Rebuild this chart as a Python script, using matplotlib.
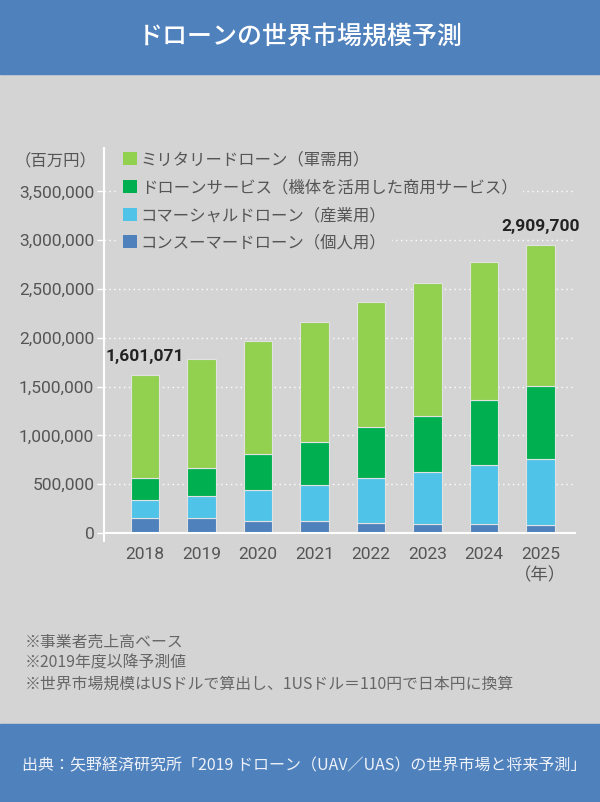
import numpy as np
import matplotlib.pyplot as plt
from matplotlib.patches import Patch, Rectangle
from matplotlib.ticker import FuncFormatter

# データ（百万円）
years = ["2018", "2019", "2020", "2021", "2022", "2023", "2024", "2025"]
consumer = [151000, 151000, 120000, 120000, 106000, 92000, 92000, 79000]
commercial = [187000, 231000, 317000, 372000, 458000, 530000, 602000, 682000]
services = [229000, 281000, 369000, 440000, 525000, 580000, 672000, 748000]
military = [1052000, 1123000, 1164000, 1233000, 1278000, 1359000, 1408000, 1445000]
total_labels = {0: "1,601,071", 7: "2,909,700"}

series_names = ["ミリタリードローン（軍需用）", "ドローンサービス（機体を活用した商用サービス）",
                "コマーシャルドローン（産業用）", "コンスーマードローン（個人用）"]
colors = ["#92d050", "#00b050", "#50c3e9", "#4f81bd"]

bg = "#d4d4d4"
blue = "#4f81bd"
jp = ["Noto Sans CJK JP", "DejaVu Sans"]
num = ["Liberation Sans Narrow", "Roboto", "Noto Sans CJK JP"]

fig = plt.figure(figsize=(6, 8.02), dpi=100, facecolor=bg)

# ヘッダーとフッター
fig.patches.append(Rectangle((0, 1 - 74 / 802), 1, 74 / 802, transform=fig.transFigure,
                             color=blue, zorder=0))
fig.patches.append(Rectangle((0, 0), 1, 78 / 802, transform=fig.transFigure,
                             color=blue, zorder=0))
fig.text(0.5, 1 - 37 / 802, "ドローンの世界市場規模予測", color="white", fontsize=18,
         ha="center", va="center", family=jp, fontweight="medium")

ax = fig.add_axes([104 / 600, 1 - 541 / 802, 472 / 600, 393 / 802])
ax.set_facecolor(bg)

x = np.arange(len(years))
w = 0.505
stack = [consumer, commercial, services, military]
stack_colors = colors[::-1]
bottom = np.zeros(len(years))
for vals, c in zip(stack, stack_colors):
    ax.bar(x, vals, w, bottom=bottom, color=c, edgecolor="#e2e2e2", linewidth=0.8, zorder=3)
    bottom += np.array(vals)

for i, txt in total_labels.items():
    ax.annotate(txt, (x[i], bottom[i]), xytext=(0, 13), textcoords="offset points",
                ha="center", va="center", fontsize=12.5, fontweight="bold",
                color="#222222", family=num, zorder=5)

ax.set_xlim(-0.722, 7.632)
ax.set_ylim(-82000, 3945000)
ax.set_yticks(np.arange(0, 3500001, 500000))
ax.yaxis.set_major_formatter(FuncFormatter(lambda v, p: f"{int(v):,}"))
ax.set_xticks(x)
ax.set_xticklabels(years[:-1] + [years[-1] + "\n（年）"])

for lab in ax.get_xticklabels() + ax.get_yticklabels():
    lab.set_family(num)
    lab.set_color("#555555")
    lab.set_fontsize(12.5)
    lab.set_linespacing(1.4)

ax.tick_params(axis="x", length=0, pad=4)
ax.tick_params(axis="y", length=5, width=1, color="white", pad=2)

for s in ["top", "right", "bottom"]:
    ax.spines[s].set_visible(False)
ax.spines["left"].set_color("white")
ax.spines["left"].set_linewidth(1.5)

for v in ax.get_yticks()[1:]:
    ax.axhline(v, color="white", linestyle=(0, (1, 2.5)), linewidth=1, zorder=1)
ax.axhline(0, color="white", linewidth=1.5, zorder=4)

# 凡例（項目ごとに背景）
rows = [160, 188, 216, 243]
for name, c, ry in zip(series_names, colors, rows):
    leg = ax.legend(handles=[Patch(facecolor=c, edgecolor="none")], labels=[name],
                    loc="center left", bbox_to_anchor=(117 / 600, 1 - ry / 802),
                    bbox_transform=fig.transFigure, borderaxespad=0, borderpad=0.35,
                    frameon=True, fancybox=False, facecolor=bg, edgecolor="none",
                    framealpha=1, handlelength=0.85, handleheight=0.85, handletextpad=0.25,
                    prop={"family": jp, "size": 11.8})
    leg.get_texts()[0].set_color("#555555")
    leg.set_zorder(6)
    ax.add_artist(leg)

fig.text(97 / 600, 1 - 161 / 802, "（百万円）", ha="right", va="center",
         fontsize=11.8, color="#555555", family=jp)

notes = ["※事業者売上高ベース", "※2019年度以降予測値",
         "※世界市場規模はUSドルで算出し、1USドル＝110円で日本円に換算"]
for k, n in enumerate(notes):
    fig.text(25 / 600, 1 - (642 + 21 * k) / 802, n, ha="left", va="center",
             fontsize=11.4, color="#666666", family=jp)

fig.text(22 / 600, 1 - 766 / 802,
         "出典：矢野経済研究所「2019 ドローン（UAV／UAS）の世界市場と将来予測」",
         ha="left", va="center", fontsize=11.5, color="#eef2f8", family=jp)

fig.savefig("out.png", dpi=100, facecolor=bg)
